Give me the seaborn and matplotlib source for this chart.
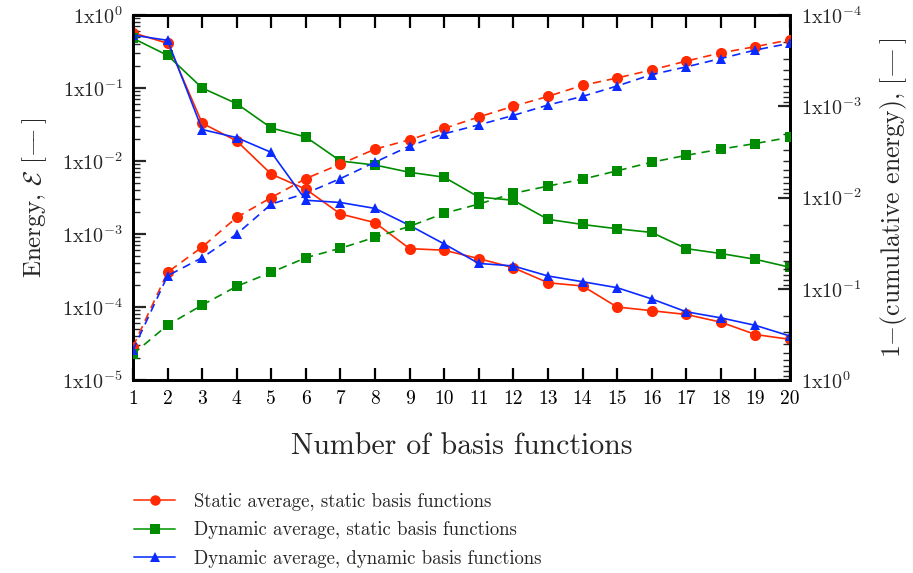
import numpy as np
import pandas as pd
import matplotlib
matplotlib.use("Agg")
import matplotlib.pyplot as plt
import seaborn as sns
from matplotlib.lines import Line2D
from matplotlib.ticker import FixedLocator, LogLocator, NullFormatter

n_basis = list(range(1, 21))

# Energy of each basis function (left axis)
energy_static_static = [0.57, 0.41, 0.033, 0.0188, 0.0066, 0.0041, 0.00188, 0.00143, 6.3e-4, 6.0e-4,
                        4.6e-4, 3.45e-4, 2.15e-4, 1.94e-4, 1.0e-4, 8.9e-5, 7.9e-5, 6.2e-5, 4.2e-5, 3.6e-5]
energy_dynamic_static = [0.48, 0.28, 0.10, 0.061, 0.0283, 0.0213, 0.0100, 0.0088, 0.0070, 0.0060,
                         0.0032, 0.0029, 0.00159, 0.00135, 0.00118, 0.00105, 6.3e-4, 5.4e-4, 4.5e-4, 3.5e-4]
energy_dynamic_dynamic = [0.53, 0.45, 0.027, 0.0209, 0.0131, 0.0029, 0.0027, 0.00224, 0.00131, 7.3e-4,
                          3.95e-4, 3.65e-4, 2.66e-4, 2.22e-4, 1.84e-4, 1.29e-4, 8.6e-5, 7.1e-5, 5.6e-5, 4.0e-5]

# Residual 1 - cumulative energy (right axis)
resid_static_static = [0.43, 0.066, 0.0349, 0.0165, 0.0100, 0.0062, 0.0043, 0.00295, 0.00233, 0.00175,
                       0.00131, 0.00100, 7.8e-4, 5.9e-4, 4.9e-4, 4.0e-4, 3.2e-4, 2.6e-4, 2.22e-4, 1.87e-4]
resid_dynamic_static = [0.52, 0.25, 0.151, 0.094, 0.066, 0.0457, 0.036, 0.0273, 0.0207, 0.0149,
                        0.0118, 0.0090, 0.0075, 0.0063, 0.0051, 0.0041, 0.00345, 0.00295, 0.00256, 0.00219]
resid_dynamic_dynamic = [0.47, 0.072, 0.0457, 0.0252, 0.0118, 0.0090, 0.0062, 0.0041, 0.00273, 0.0020,
                         0.0016, 0.00126, 9.7e-4, 7.8e-4, 6.0e-4, 4.5e-4, 3.7e-4, 3.0e-4, 2.42e-4, 2.04e-4]

labels = ["Static average, static basis functions",
          "Dynamic average, static basis functions",
          "Dynamic average, dynamic basis functions"]
colors = ["#ff2a00", "#008c00", "#0a2aff"]
legend_line_colors = ["#ff5533", "#33aa33", "#3355ff"]
markers = ["o", "s", "^"]

left_ticks = [1e0, 1e-1, 1e-2, 1e-3, 1e-4, 1e-5]
left_ticklabels = ["1x10$^{0}$", "1x10$^{-1}$", "1x10$^{-2}$", "1x10$^{-3}$", "1x10$^{-4}$", "1x10$^{-5}$"]
right_ticks = [1e-4, 1e-3, 1e-2, 1e-1, 1e0]
right_ticklabels = ["1x10$^{-4}$", "1x10$^{-3}$", "1x10$^{-2}$", "1x10$^{-1}$", "1x10$^{0}$"]

sns.set_theme(style="ticks")
plt.rcParams["font.family"] = ["cmr10", "DejaVu Serif"]
plt.rcParams["mathtext.fontset"] = "cm"
plt.rcParams["axes.unicode_minus"] = False
plt.rcParams["axes.formatter.use_mathtext"] = True

energy = pd.DataFrame({"n": n_basis * 3,
                       "value": energy_static_static + energy_dynamic_static + energy_dynamic_dynamic,
                       "case": sum([[l] * 20 for l in labels], [])})
resid = pd.DataFrame({"n": n_basis * 3,
                      "value": resid_static_static + resid_dynamic_static + resid_dynamic_dynamic,
                      "case": sum([[l] * 20 for l in labels], [])})

fig = plt.figure(figsize=(9.13, 5.73), dpi=100)
ax = fig.add_axes([133 / 913, 1 - 380 / 573, (790 - 133) / 913, (380 - 15) / 573])
ax2 = ax.twinx()

palette = dict(zip(labels, colors))
marker_map = dict(zip(labels, markers))

for lab in labels:
    msize = 8 if marker_map[lab] == "o" else 7.5
    sub = energy[energy["case"] == lab]
    sns.lineplot(data=sub, x="n", y="value", ax=ax, color=palette[lab], marker=marker_map[lab],
                 markersize=msize, markeredgewidth=0, linewidth=1.2, legend=False, zorder=3)
    sub2 = resid[resid["case"] == lab]
    sns.lineplot(data=sub2, x="n", y="value", ax=ax2, color=palette[lab], marker=marker_map[lab],
                 markersize=msize, markeredgewidth=0, linewidth=1.2, legend=False, zorder=3)
for line in ax2.get_lines():
    line.set_linestyle((0, (5, 3.5)))

ax.set_yscale("log")
ax.set_ylim(1e-5, 1e0)
ax.set_xlim(1, 20)
ax2.set_yscale("log")
ax2.set_ylim(1e0, 1e-4)

ax.set_xticks(n_basis)
ax.set_xticklabels([str(v) for v in n_basis])
ax.yaxis.set_major_locator(FixedLocator(left_ticks))
ax.set_yticklabels(left_ticklabels)
ax.yaxis.set_minor_locator(LogLocator(base=10, subs=np.arange(2, 10)))
ax.yaxis.set_minor_formatter(NullFormatter())
ax2.yaxis.set_major_locator(FixedLocator(right_ticks))
ax2.set_yticklabels(right_ticklabels)
ax2.yaxis.set_minor_locator(LogLocator(base=10, subs=np.arange(2, 10)))
ax2.yaxis.set_minor_formatter(NullFormatter())

ax.tick_params(axis="x", which="major", direction="in", length=9, width=1.6, top=True,
               labelsize=14, pad=7, colors="black")
ax.tick_params(axis="y", which="major", direction="in", length=9, width=1.6, labelsize=14.5, pad=7)
ax.tick_params(axis="y", which="minor", direction="in", length=5, width=1.0)
ax2.tick_params(axis="y", which="major", direction="in", length=9, width=1.6, labelsize=14.5, pad=8)
ax2.tick_params(axis="y", which="minor", direction="in", length=5, width=1.0)

for a in (ax, ax2):
    for sp in a.spines.values():
        sp.set_linewidth(2.0)
        sp.set_color("black")
        sp.set_visible(True)

dash = r"[$-\!\!\!\!-$]"
ax.set_xlabel("Number of basis functions", fontsize=21.5, labelpad=18)
ax.set_ylabel(r"Energy, $\mathcal{E}$ " + dash, fontsize=18, labelpad=9)
ax2.set_ylabel("1$-$(cumulative energy), " + dash, fontsize=18.5, labelpad=11)

handles = [Line2D([0], [0], color=lc, marker=m, markersize=7.5 if m == "o" else 7,
                  markerfacecolor=c, markeredgewidth=0, linewidth=1.4)
           for c, lc, m in zip(colors, legend_line_colors, markers)]
fig.legend(handles, labels, loc="upper left", bbox_to_anchor=(117 / 913, 1 - 476 / 573),
           frameon=False, fontsize=13.5, handlelength=2.2, handletextpad=1.0, labelspacing=0.55)

fig.savefig("out.png", dpi=100)
